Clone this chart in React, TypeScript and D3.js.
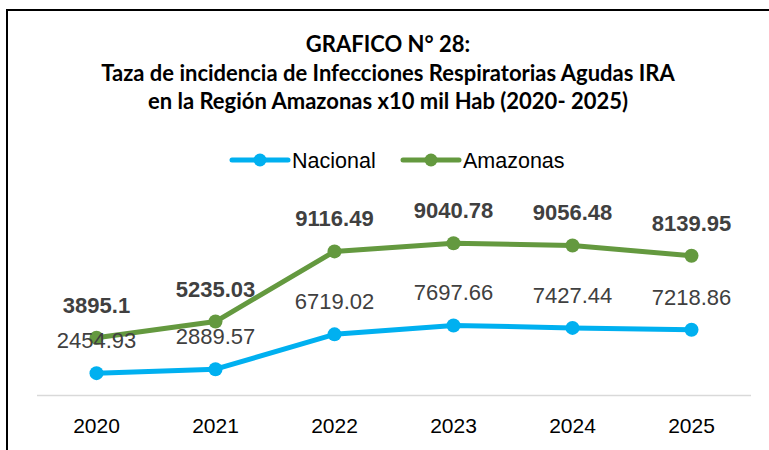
import * as d3 from 'd3';

const years = ['2020', '2021', '2022', '2023', '2024', '2025'];
const nacional = [2454.93, 2889.57, 6719.02, 7697.66, 7427.44, 7218.86];
const amazonas = [3895.1, 5235.03, 9116.49, 9040.78, 9056.48, 8139.95];
const seriesNames = ['Nacional', 'Amazonas'];
const seriesColors = ['#00B0F0', '#64993F'];
const titleLines = [
  'GRAFICO N° 28:',
  'Taza de incidencia de Infecciones Respiratorias Agudas IRA',
  'en la Región Amazonas x10 mil Hab (2020- 2025)',
];

const W = 769;
const H = 450;

export default function App() {
  const rows = years.map((y, i) => ({ year: y, Nacional: nacional[i], Amazonas: amazonas[i] }));
  // stacked line chart, like the Excel original
  const stacked = d3.stack<any>().keys(seriesNames)(rows);

  const x = d3.scalePoint<string>().domain(years).range([37, 751]).padding(0.5);
  const y = d3.scaleLinear().domain([0, 20000]).range([395.5, 213.5]);

  const line = d3
    .line<any>()
    .x((d) => x(d.data.year)!)
    .y((d) => y(d[1]));

  const labelFont = '"Liberation Sans", Arial, sans-serif';

  return (
    <svg width={W} height={H} style={{ position: 'absolute', left: 0, top: 0, background: '#fff' }}>
      <rect x={0} y={0} width={W} height={H} fill="#fff" />
      {/* frame */}
      <path d={`M7,${H} V10 H${W}`} fill="none" stroke="#000" strokeWidth={2} />

      {/* title */}
      {titleLines.map((t, i) => (
        <text
          key={i}
          x={388}
          y={52 + i * 28.5}
          textAnchor="middle"
          fontFamily="Lato, sans-serif"
          fontWeight="bold"
          fontSize={22}
          fill="#000"
        >
          {t}
        </text>
      ))}

      {/* legend */}
      {seriesNames.map((name, i) => {
        const lx = [232, 403][i];
        return (
          <g key={name}>
            <line x1={lx} x2={lx + 56} y1={160} y2={160} stroke={seriesColors[i]} strokeWidth={5} strokeLinecap="round" />
            <circle cx={lx + 28} cy={160} r={6.5} fill={seriesColors[i]} />
            <text x={lx + 60} y={167.5} fontFamily={labelFont} fontSize={21.5} fill="#000">
              {name}
            </text>
          </g>
        );
      })}

      {/* axis line */}
      <line x1={37} x2={751} y1={y(0)} y2={y(0)} stroke="#D9D9D9" strokeWidth={1.5} />
      {years.map((yr) => (
        <text key={yr} x={x(yr)} y={433} textAnchor="middle" fontFamily={labelFont} fontSize={21} fill="#000">
          {yr}
        </text>
      ))}

      {/* series */}
      {stacked.map((s, i) => (
        <g key={s.key}>
          <path d={line(s as any) ?? ''} fill="none" stroke={seriesColors[i]} strokeWidth={5} strokeLinejoin="round" />
          {s.map((d: any) => (
            <circle key={d.data.year} cx={x(d.data.year)} cy={y(d[1])} r={7} fill={seriesColors[i]} />
          ))}
        </g>
      ))}

      {/* data labels */}
      {stacked.map((s, i) => (
        <g key={s.key + '-lbl'}>
          {s.map((d: any) => (
            <text
              key={d.data.year}
              x={x(d.data.year)}
              y={y(d[1]) - 25}
              textAnchor="middle"
              fontFamily={labelFont}
              fontSize={22}
              fontWeight={i === 1 ? 'bold' : 'normal'}
              fill="#404040"
            >
              {String(d.data[s.key])}
            </text>
          ))}
        </g>
      ))}
    </svg>
  );
}
